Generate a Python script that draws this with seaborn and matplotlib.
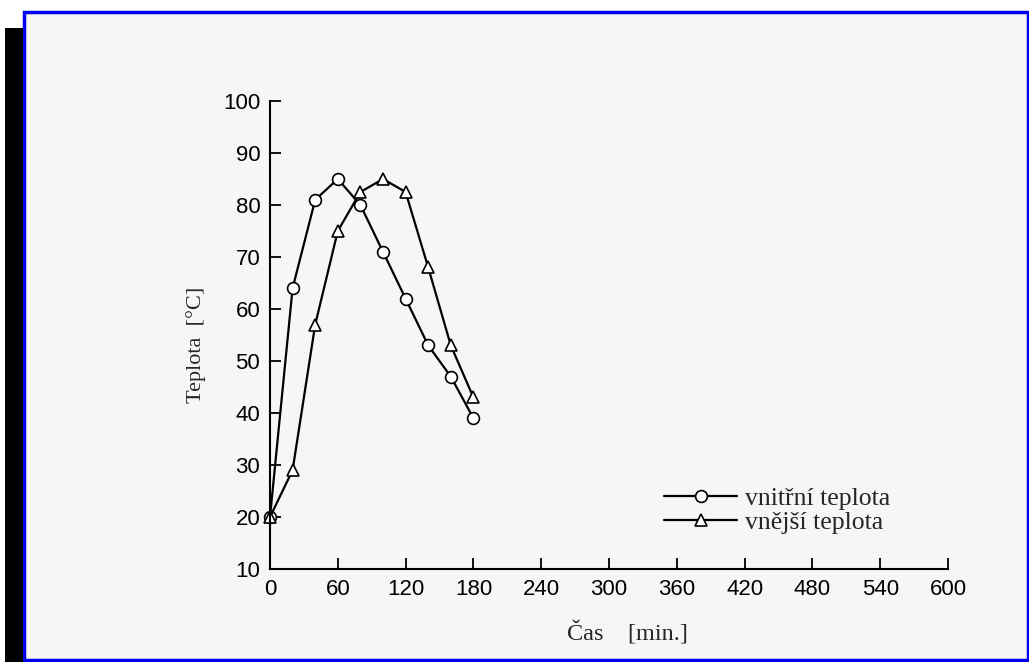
import matplotlib
matplotlib.use("Agg")
import matplotlib.pyplot as plt
from matplotlib.patches import Rectangle
import seaborn as sns
import pandas as pd

# ---- data ----
time_min = [0, 20, 40, 60, 80, 100, 120, 140, 160, 180]
inner_temp = [20, 64, 81, 85, 80, 71, 62, 53, 47, 39]      # vnitřní teplota
outer_temp = [20, 29, 57, 75, 82.5, 85, 82.5, 68, 53, 43]  # vnější teplota
series_names = ["vnitřní teplota", "vnější teplota"]
x_ticks = [0, 60, 120, 180, 240, 300, 360, 420, 480, 540, 600]
y_ticks = [10, 20, 30, 40, 50, 60, 70, 80, 90, 100]

df = pd.DataFrame({
    "Čas": time_min * 2,
    "Teplota": inner_temp + outer_temp,
    "series": [series_names[0]] * len(time_min) + [series_names[1]] * len(time_min),
})

sns.set_theme(style="white")
plt.rcParams["font.family"] = ["Liberation Sans", "DejaVu Sans"]

W, H = 1029, 662
fig = plt.figure(figsize=(W / 100, H / 100), dpi=100)
fig.patch.set_facecolor("white")

# scanned page background with blue frame and black bar on the left
fig.add_artist(Rectangle((24 / W, 2 / H), (W - 25) / W, (H - 14) / H,
                         transform=fig.transFigure, facecolor="#f7f5f5",
                         edgecolor="#0000ee", lw=2.5, zorder=0))
fig.add_artist(Rectangle((5 / W, 0), 18 / W, (H - 28) / H,
                         transform=fig.transFigure, facecolor="black",
                         edgecolor="none", zorder=0))

ax = fig.add_axes([270 / W, 1 - 569 / H, (948 - 270) / W, (569 - 101) / H])
ax.set_facecolor("none")

sns.lineplot(data=df, x="Čas", y="Teplota", style="series",
             markers={series_names[0]: "o", series_names[1]: "^"},
             dashes=False, color="black", lw=1.6, ax=ax,
             markersize=8.5, markerfacecolor="white",
             markeredgecolor="black", markeredgewidth=1.2, clip_on=False)

ax.set_xlim(0, 600)
ax.set_ylim(10, 100)
ax.set_xticks(x_ticks)
ax.set_yticks(y_ticks)
ax.tick_params(direction="in", length=8, width=1.3, labelsize=16, pad=7,
               colors="black", bottom=True, left=True)
for s in ["top", "right"]:
    ax.spines[s].set_visible(False)
for s in ["left", "bottom"]:
    ax.spines[s].set_linewidth(1.5)
    ax.spines[s].set_color("black")

serif = ["Liberation Serif", "DejaVu Serif"]
ax.set_xlabel("Čas    [min.]", family=serif, fontsize=17.5)
ax.set_ylabel("Teplota  [°C]", family=serif, fontsize=16)
ax.xaxis.set_label_coords(0.5265, -0.112)
ax.yaxis.set_label_coords(-0.094, 0.479)

handles, labels = ax.get_legend_handles_labels()
leg = ax.legend(handles, labels, loc="upper left",
                bbox_to_anchor=(664 / W, 1 - 487 / H),
                bbox_transform=fig.transFigure, frameon=False,
                handlelength=2.85, handletextpad=0.3, labelspacing=0.05,
                borderpad=0, borderaxespad=0,
                prop={"family": serif, "size": 18.5})

fig.savefig("out.png", dpi=100)
